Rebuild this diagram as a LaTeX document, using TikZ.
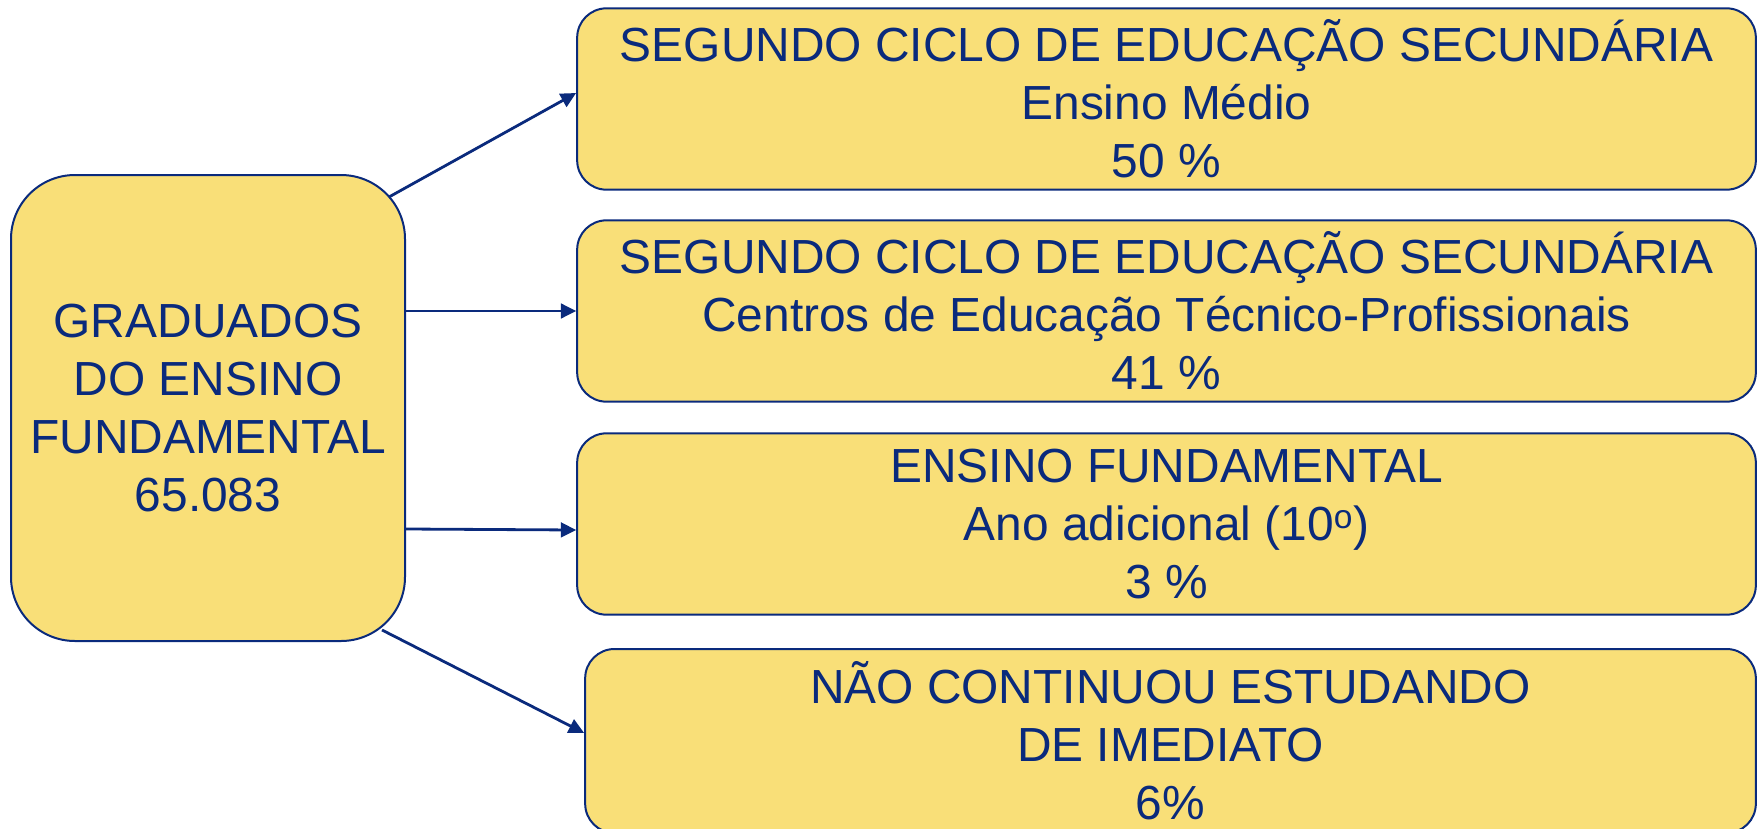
\documentclass[tikz,border=0pt]{standalone}
\usepackage{fontspec}
\setmainfont{Liberation Sans}
\usetikzlibrary{arrows.meta,calc}
\definecolor{navy}{HTML}{0A2A7C}
\definecolor{boxfill}{HTML}{F9DF78}
\begin{document}
\begin{tikzpicture}[x=0.75pt,y=-0.75pt,
  txt/.style={font=\fontsize{35.9pt}{43.5pt}\selectfont, text=navy, align=center},
  bigbox/.style={txt, draw=navy, line width=1.5pt, fill=boxfill, rounded corners=48pt, inner sep=0pt,
     minimum width=295.5pt, minimum height=349.5pt},
  rbox/.style={txt, draw=navy, line width=1.5pt, fill=boxfill, rounded corners=22pt, inner sep=0pt,
     minimum width=884pt, minimum height=136pt},
  conn/.style={draw=navy, line width=2.1pt, -{Triangle[length=11.5pt,width=11pt]}}]
\useasboundingbox (0,0) rectangle (1763,828);
\node[bigbox] (left) at (208,408) {GRADUADOS\\DO ENSINO\\FUNDAMENTAL\\65.083};
\node[rbox] (b1) at (1166.5,99) {SEGUNDO CICLO DE EDUCAÇÃO SECUNDÁRIA\\Ensino Médio\\50 \%};
\node[rbox] (b2) at (1166.5,311) {SEGUNDO CICLO DE EDUCAÇÃO SECUNDÁRIA\\Centros de Educação Técnico-Profissionais\\41 \%};
\node[rbox] (b3) at (1166.5,524) {ENSINO FUNDAMENTAL\\Ano adicional (10\textsuperscript{o})\\3 \%};
\node[rbox, minimum width=878pt, minimum height=138pt] (b4) at (1170.5,741) {NÃO CONTINUOU ESTUDANDO\\DE IMEDIATO\\6\%};
\coordinate (s1) at (389,197);
\coordinate (s4) at (382,630);
\draw[conn] (s1) -- ($(b1.west)+(0,-6)$);
\draw[conn] (b2.west -| left.east) -- (b2.west);
\draw[conn] ($(b3.west -| left.east)+(0,5)$) -- ($(b3.west)+(0,6)$);
\draw[conn] (s4) -- ($(b4.west)+(0,-8)$);
\end{tikzpicture}
\end{document}
